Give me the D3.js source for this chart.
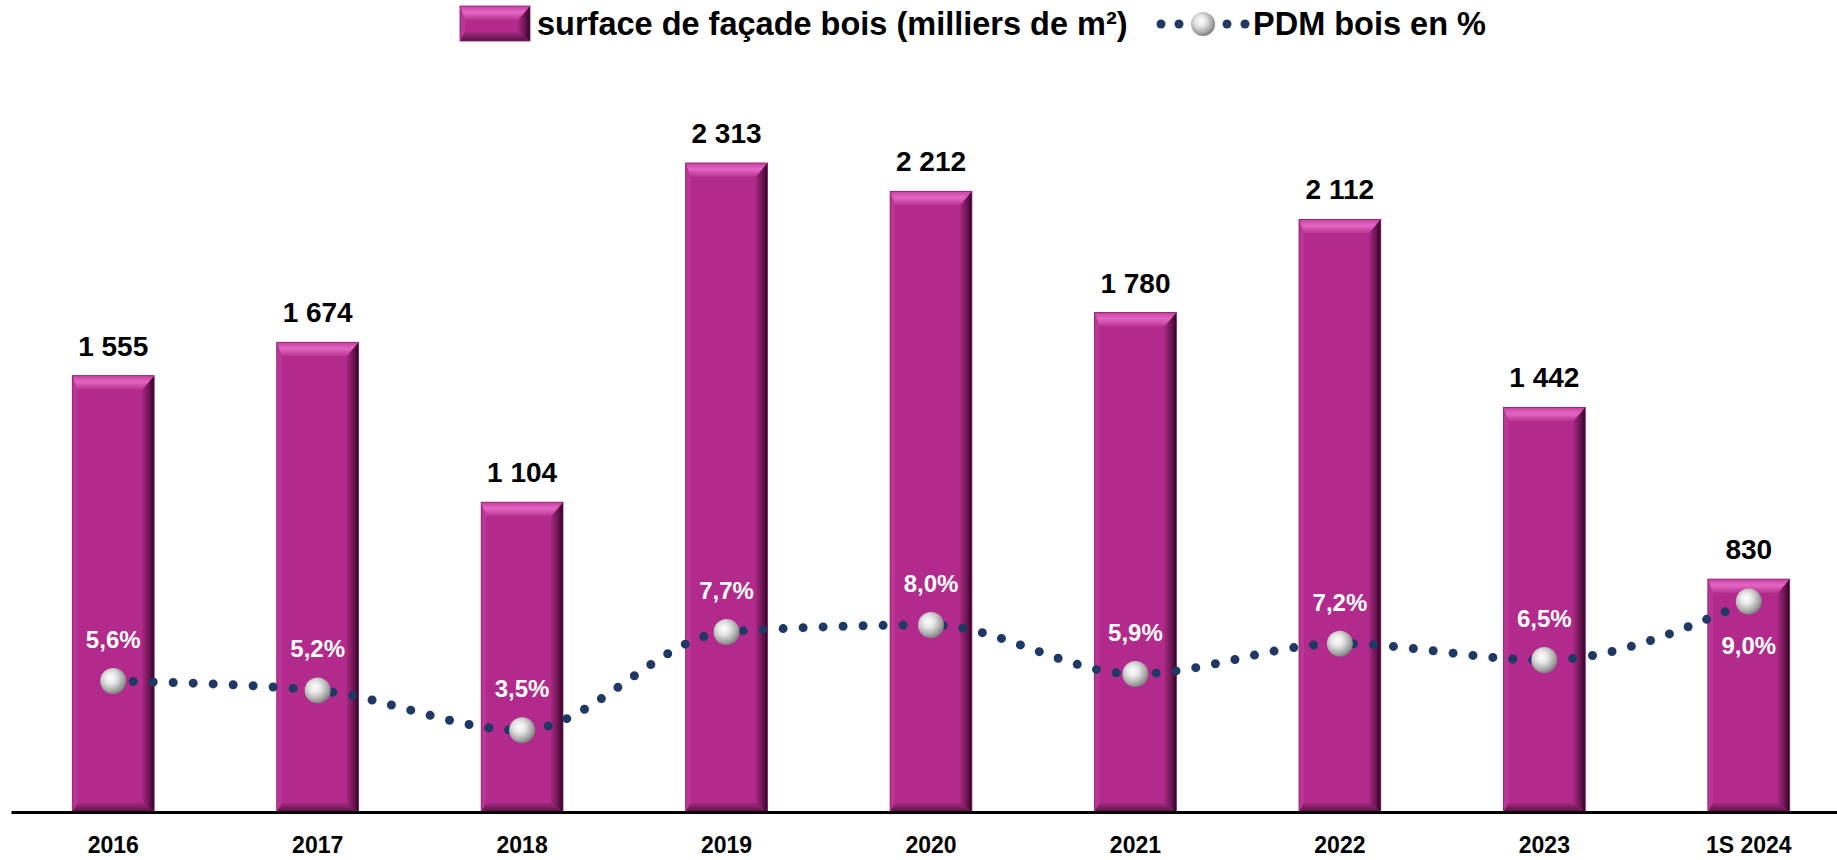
<!DOCTYPE html>
<html>
<head>
<meta charset="utf-8">
<script src="https://cdn.jsdelivr.net/npm/d3@7"></script>
<style>
  body { margin: 0; background: #fff; }
  svg text { font-family: "Liberation Sans", Arial, sans-serif; font-weight: bold; }
</style>
</head>
<body>
<svg id="svg"></svg>
<script>
// data
const categories = ["2016", "2017", "2018", "2019", "2020", "2021", "2022", "2023", "1S 2024"];
const surface = [1555, 1674, 1104, 2313, 2212, 1780, 2112, 1442, 830];
const pdm = [5.6, 5.2, 3.5, 7.7, 8.0, 5.9, 7.2, 6.5, 9.0];
const surfaceLabels = ["1 555", "1 674", "1 104", "2 313", "2 212", "1 780", "2 112", "1 442", "830"];
const pdmLabels = ["5,6%", "5,2%", "3,5%", "7,7%", "8,0%", "5,9%", "7,2%", "6,5%", "9,0%"];

const width = 1837;
const height = 860;
const baseY = 812;

let svg = d3.select("#svg").attr("width", width).attr("height", height);

let x = d3.scaleBand()
    .domain(categories)
    .range([11, 1851])
    .paddingInner(0.6)
    .paddingOuter(0.3);

let y = d3.scaleLinear().domain([0, 2500]).range([baseY, 110.5]);
let y2 = d3.scaleLinear().domain([0, 30]).range([baseY, 110.5]);

// gradients
let defs = svg.append("defs");

let gRight = defs.append("linearGradient").attr("id", "gRight").attr("x1", 0).attr("x2", 1).attr("y1", 0).attr("y2", 0);
gRight.append("stop").attr("offset", "0%").attr("stop-color", "#a8287f");
gRight.append("stop").attr("offset", "60%").attr("stop-color", "#6a1552");
gRight.append("stop").attr("offset", "100%").attr("stop-color", "#2a0520");

let gTop = defs.append("linearGradient").attr("id", "gTop").attr("x1", 0).attr("x2", 0).attr("y1", 0).attr("y2", 1);
gTop.append("stop").attr("offset", "0%").attr("stop-color", "#c7409f");
gTop.append("stop").attr("offset", "45%").attr("stop-color", "#e466c4");
gTop.append("stop").attr("offset", "100%").attr("stop-color", "#b7338f");

let gBottom = defs.append("linearGradient").attr("id", "gBottom").attr("x1", 0).attr("x2", 0).attr("y1", 0).attr("y2", 1);
gBottom.append("stop").attr("offset", "0%").attr("stop-color", "#a22a7d");
gBottom.append("stop").attr("offset", "100%").attr("stop-color", "#5a1046");

let gSphere = defs.append("radialGradient").attr("id", "gSphere")
    .attr("cx", "40%").attr("cy", "38%").attr("r", "65%");
gSphere.append("stop").attr("offset", "0%").attr("stop-color", "#ffffff");
gSphere.append("stop").attr("offset", "35%").attr("stop-color", "#e6e6e6");
gSphere.append("stop").attr("offset", "75%").attr("stop-color", "#a9a9a9");
gSphere.append("stop").attr("offset", "100%").attr("stop-color", "#7a7a7a");

// bevelled bar, drawn from a box
function drawBar(g, x0, y0, w, h) {
    const bt = Math.min(14, h / 2), br = 12, bb = 9, bl = 5;
    g.append("rect").attr("x", x0).attr("y", y0).attr("width", w).attr("height", h).attr("fill", "#b12a8c");
    // left
    g.append("polygon").attr("points", [[x0, y0], [x0 + bl, y0 + bt], [x0 + bl, y0 + h - bb], [x0, y0 + h]].join(" "))
        .attr("fill", "#bb3596");
    // right
    g.append("polygon").attr("points", [[x0 + w, y0], [x0 + w - br, y0 + bt], [x0 + w - br, y0 + h - bb], [x0 + w, y0 + h]].join(" "))
        .attr("fill", "url(#gRight)");
    // bottom
    g.append("polygon").attr("points", [[x0, y0 + h], [x0 + bl, y0 + h - bb], [x0 + w - br, y0 + h - bb], [x0 + w, y0 + h]].join(" "))
        .attr("fill", "url(#gBottom)");
    // top
    g.append("polygon").attr("points", [[x0, y0], [x0 + w, y0], [x0 + w - br, y0 + bt], [x0 + bl, y0 + bt]].join(" "))
        .attr("fill", "url(#gTop)");
    g.append("rect").attr("x", x0).attr("y", y0).attr("width", w).attr("height", h)
        .attr("fill", "none").attr("stroke", "#8a1d6c").attr("stroke-width", 0.8);
}

let bars = svg.append("g");
categories.forEach(function (c, i) {
    drawBar(bars.append("g"), x(c), y(surface[i]), x.bandwidth(), baseY - y(surface[i]));
});

// value labels above bars
svg.append("g").selectAll("text")
    .data(categories)
    .join("text")
    .attr("x", d => x(d) + x.bandwidth() / 2)
    .attr("y", (d, i) => y(surface[i]) - 20)
    .attr("text-anchor", "middle")
    .attr("font-size", "28px")
    .attr("fill", "#000")
    .text((d, i) => surfaceLabels[i]);

// x axis
let xAxis = svg.append("g")
    .attr("transform", "translate(0," + baseY + ")")
    .call(d3.axisBottom(x).tickSize(0).tickPadding(25));
xAxis.select(".domain").attr("stroke", "#000").attr("stroke-width", 3);
xAxis.selectAll("text")
    .attr("font-family", "Liberation Sans, Arial, sans-serif")
    .attr("font-weight", "bold")
    .attr("font-size", "23px")
    .attr("fill", "#000");

// PDM line
let line = d3.line()
    .x((d, i) => x(categories[i]) + x.bandwidth() / 2)
    .y(d => y2(d))
    .curve(d3.curveMonotoneX);

svg.append("path")
    .attr("d", line(pdm))
    .attr("fill", "none")
    .attr("stroke", "#1f3864")
    .attr("stroke-width", 9)
    .attr("stroke-linecap", "round")
    .attr("stroke-dasharray", "0 20");

svg.append("g").selectAll("circle")
    .data(pdm)
    .join("circle")
    .attr("cx", (d, i) => x(categories[i]) + x.bandwidth() / 2)
    .attr("cy", d => y2(d))
    .attr("r", 13)
    .attr("fill", "url(#gSphere)");

// PDM labels: above the marker, below for the last point
const lastCat = categories[categories.length - 1];
svg.append("g").selectAll("text")
    .data(categories)
    .join("text")
    .attr("x", d => x(d) + x.bandwidth() / 2)
    .attr("y", (d, i) => d === lastCat ? y2(pdm[i]) + 52 : y2(pdm[i]) - 33)
    .attr("text-anchor", "middle")
    .attr("font-size", "24px")
    .attr("fill", "#fff")
    .text((d, i) => pdmLabels[i]);

// legend
let legend = svg.append("g");
drawBar(legend.append("g"), 460, 6, 70, 35);
legend.append("text").attr("x", 537).attr("y", 35).attr("font-size", "32.5px")
    .text("surface de façade bois (milliers de m²)");

let ly = 24;
[1161, 1179, 1227, 1245].forEach(function (cx) {
    legend.append("circle").attr("cx", cx).attr("cy", ly).attr("r", 4.5).attr("fill", "#1f3864");
});
legend.append("circle").attr("cx", 1203).attr("cy", ly).attr("r", 12).attr("fill", "url(#gSphere)");
legend.append("text").attr("x", 1253).attr("y", 35).attr("font-size", "32.5px").text("PDM bois en %");
</script>
</body>
</html>
